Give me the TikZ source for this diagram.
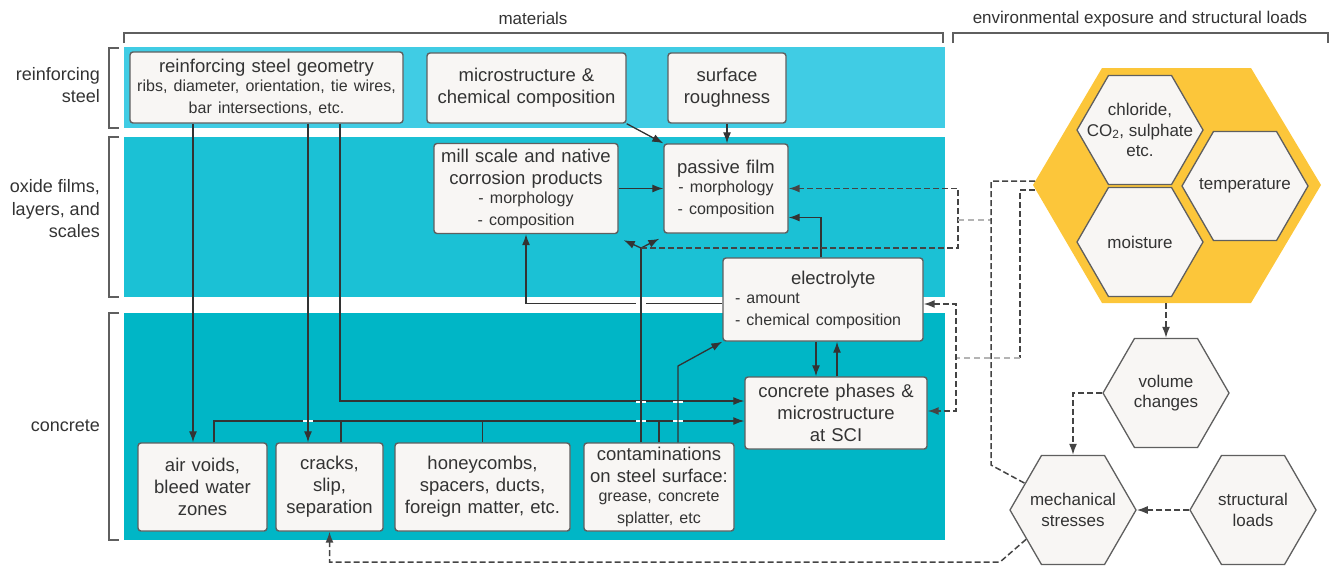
\documentclass[tikz,border=0pt]{standalone}
\usepackage{fontspec}
\setmainfont{Liberation Sans}
\usepackage{xcolor}
\usetikzlibrary{shapes.geometric, arrows.meta, positioning, calc}

\definecolor{bandA}{HTML}{40CCE4}
\definecolor{bandB}{HTML}{1BC1D5}
\definecolor{bandC}{HTML}{00B6C6}
\definecolor{boxfill}{HTML}{F8F6F4}
\definecolor{lineg}{HTML}{333333}
\definecolor{txt}{HTML}{333333}
\definecolor{expo}{HTML}{FCC63A}
\definecolor{dashg}{HTML}{444444}
\definecolor{lightg}{HTML}{B4B4B4}
\definecolor{hexline}{HTML}{5F5F5F}

\newcommand{\mainsz}{\fontsize{18.5}{22}\selectfont}
\newcommand{\smsz}{\fontsize{16}{19}\selectfont}
\newcommand{\gapmark}[2]{\draw[white, line width=2.2pt] (#1-5,#2) -- (#1+5,#2);}

\begin{document}
\begin{tikzpicture}[x=1pt, y=-1pt, >={Latex[length=11pt,width=8pt]}]
    \tikzstyle{box} = [rectangle, draw=hexline, line width=1.4pt, fill=boxfill, rounded corners=3pt, text=txt, font=\mainsz, align=center, inner xsep=4pt, inner ysep=2pt]
    \tikzstyle{hexa} = [regular polygon, regular polygon sides=6, minimum size=126pt, inner sep=0pt, draw=hexline, line width=1.3pt, fill=boxfill]
    \tikzstyle{hexlab} = [text=txt, font=\fontsize{17}{20.5}\selectfont, align=center, inner sep=0pt]
    \tikzstyle{lab} = [text=txt, font=\fontsize{18}{22.5}\selectfont, align=right, anchor=east, inner sep=0pt]
    \tikzstyle{head} = [text=txt, font=\fontsize{17}{20}\selectfont, inner sep=0pt]
    \tikzstyle{link} = [draw=lineg, line width=1.3pt]
    \tikzstyle{dlink} = [draw=dashg, line width=1.5pt, dash pattern=on 6pt off 3pt]
    \tikzstyle{dlight} = [draw=lightg, line width=1.2pt, dash pattern=on 6pt off 4pt]
    \tikzstyle{brace} = [draw=hexline, line width=1.3pt]

    \useasboundingbox (0,0) rectangle (1333,566);

    % layers
    \fill[bandA] (124,47) rectangle (945,128);
    \fill[bandB] (124,137) rectangle (945,297);
    \fill[bandC] (124,313) rectangle (945,540);

    % brackets and headings
    \draw[brace] (124,43) -- (124,33) -- (943,33) -- (943,43);
    \draw[brace] (953,43) -- (953,33) -- (1328,33) -- (1328,43);
    \draw[brace] (119,48) -- (109,48) -- (109,128) -- (119,128);
    \draw[brace] (119,137) -- (109,137) -- (109,297) -- (119,297);
    \draw[brace] (119,313) -- (109,313) -- (109,540) -- (119,540);

    \node[head] (tmat) at (533,18) {materials};
    \node[head] (tenv) at (1140,19) {environmental exposure and structural loads};
    \node[lab] (lsteel) at (100,85) {reinforcing\\steel};
    \node[lab] (loxide) at (100,209) {oxide films,\\layers, and\\scales};
    \node[lab] (lconc) at (100,426) {concrete};

    % materials boxes
    \node[box, text width=265pt, minimum height=71pt] (geom) at (266.5,87.5) {reinforcing steel geometry\par\smsz ribs, diameter, orientation, tie wires,\\bar intersections, etc.};
    \node[box, text width=191pt, minimum height=70pt] (micro) at (526.5,88) {microstructure \&\\chemical composition};
    \node[box, text width=110pt, minimum height=70pt] (rough) at (727,88) {surface\\roughness};
    \node[box, text width=176pt, minimum height=90pt] (mill) at (526,188.5) {mill scale and native\\corrosion products\par\smsz - morphology\\- composition};
    \node[box, text width=116pt, minimum height=89pt] (passive) at (726,188.5) {passive film\par\smsz - morphology\\- composition};
    \node[box, text width=176pt, inner xsep=12pt, align=left, minimum height=83pt] (elec) at (823,299.5) {\hspace*{56pt}electrolyte\par\smsz - amount\\\mbox{- chemical composition}};
    \node[box, text width=174pt, minimum height=72pt] (sci) at (836,413) {concrete phases \&\\microstructure\\at SCI};
    \node[box, text width=121pt, minimum height=88pt] (air) at (202.5,487) {air voids,\\bleed water\\zones};
    \node[box, text width=99pt, minimum height=88pt] (cracks) at (329.5,487) {cracks,\\slip,\\separation};
    \node[box, text width=167pt, minimum height=88pt] (honey) at (482.5,487) {honeycombs,\\spacers, ducts,\\foreign matter, etc.};
    \node[box, text width=142pt, minimum height=88pt] (contam) at (659,487) {contaminations\\on steel surface:\par\smsz grease, concrete\\splatter, etc};

    % exposure hexagons
    \fill[expo] (1033,185) -- (1102,68) -- (1251,68) -- (1321,185) -- (1251,303) -- (1102,303) -- cycle;
    \coordinate (expoA) at (1035,181);
    \coordinate (expoB) at (1035,190);
    \coordinate (expoS) at (1166,303);
    \node[hexa, label={[hexlab]center:chloride,\\CO\textsubscript{2}, sulphate\\etc.}] (chlor) at (1140,130) {};
    \node[hexa, label={[hexlab]center:temperature}] (temp) at (1245,186) {};
    \node[hexa, label={[hexlab]center:moisture}] (moist) at (1140,242) {};
    \node[hexa, label={[hexlab]center:volume\\changes}] (volume) at (1166,393) {};
    \node[hexa, label={[hexlab]center:mechanical\\stresses}] (mech) at (1073,510) {};
    \node[hexa, label={[hexlab]center:structural\\loads}] (struct) at (1253,510) {};

    \coordinate (junc) at (641,248);

    % solid links
    \draw[link, ->] (micro.south east) -- (passive.north west);
    \draw[link, ->] (rough.south) -- (rough.south |- passive.north);
    \draw[link, ->] (mill.east) -- (passive.west);
    \draw[link, ->] (elec.north -| 821,0) |- ([yshift=-29pt]passive.east);
    \draw[link, ->] ([yshift=-4pt]elec.west) -| (mill.south);
    \draw[link, ->] (elec.south -| 816,0) -- (sci.north -| 816,0);
    \draw[link, ->] (sci.north -| 837,0) -- (elec.south -| 837,0);
    \draw[link, ->] (geom.south -| 193,0) -- (air.north -| 193,0);
    \draw[link, ->] (geom.south -| 340,0) |- ([yshift=12pt]sci.west);
    \draw[link, ->] (air.north -| 214,0) |- ([yshift=-8pt]sci.west);
    \draw[link] (cracks.north -| 341,0) -- ++(0,-22);
    \draw[link] (honey.north) -- ++(0,-22);
    \draw[link] (contam.north) -- ++(0,-22);
    \draw[link, ->] (junc) -- ([shift={(5pt,-6pt)}]mill.south east);
    \draw[link, ->] (junc) -- ([shift={(-4pt,-5pt)}]passive.south west);

    % line crossings
    \gapmark{308}{421}
    \gapmark{641}{402}
    \gapmark{641}{421}
    \gapmark{678}{402}
    \gapmark{678}{421}
    \gapmark{641}{304}

    \draw[link, ->] (geom.south -| 308,0) -- (cracks.north -| 308,0);
    \draw[link] (contam.north -| 641,0) -- (junc);
    \draw[link, ->] (contam.north -| 678,0) -- (678,366) -- (elec.south west);

    % exposure links
    \draw[dlink, ->] (junc) -- (958,248) |- (passive.east);
    \draw[dlight] (958,220) -- (991,220);
    \draw[dlink] (expoA) -- (991,181) -- (991,465) -- (mech.151);
    \draw[dlink] (expoB) -| (1020,358);
    \draw[dlight] (1020,358) -- (956,358);
    \draw[dlink, <->] ([yshift=-4.5pt]elec.east) -| (956,358) |- ([yshift=2pt]sci.east);
    \draw[dlink, ->] (expoS) -- (volume.north);
    \draw[dlink, ->] (volume.west) -| (mech.north);
    \draw[dlink, ->] (struct.west) -- (mech.east);
    \draw[dlink, ->] (mech.212) -- (1000,562) -| (cracks.south);
\end{tikzpicture}
\end{document}
